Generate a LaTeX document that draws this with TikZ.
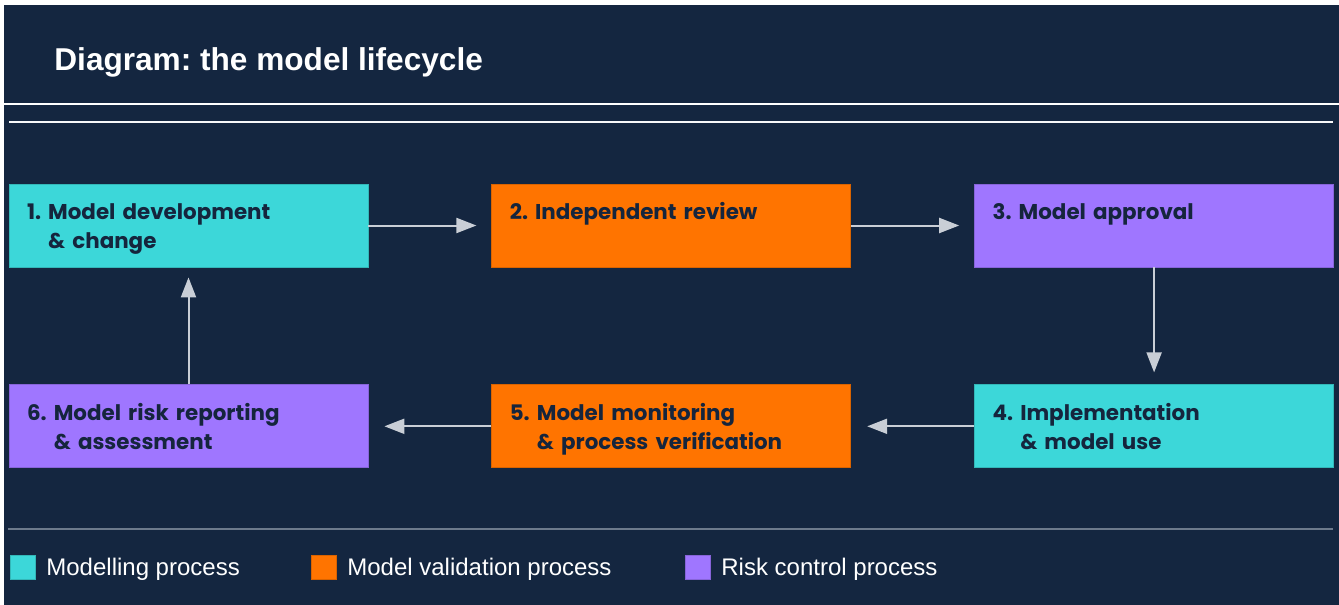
\documentclass[tikz,border=0pt]{standalone}
\usepackage{fontspec}
\setmainfont{Liberation Sans}
\newfontfamily\stagefont{Poppins}
\usepackage{tikz}
\usetikzlibrary{arrows.meta, positioning}
\frenchspacing
\definecolor{navy}{HTML}{142640}
\definecolor{modcyan}{HTML}{3CD7D9}
\definecolor{valorange}{HTML}{FF7400}
\definecolor{riskpurple}{HTML}{9F76FF}
\definecolor{stageink}{HTML}{15253D}
\definecolor{flowgrey}{HTML}{C9CED6}
\definecolor{rulegrey}{HTML}{6D7A8C}
\newcommand{\stagelines}[3]{\rule{0pt}{13pt}#1 #2\\\phantom{#1 }#3\strut}

\begin{document}
\begin{tikzpicture}[x=0.5pt, y=-0.5pt, node distance=58.5pt and 61.5pt,
  stage/.style={rectangle, draw=#1!85!black, line width=0.4pt, fill=#1,
    minimum width=179.5pt, minimum height=41.5pt, text width=161.5pt,
    inner xsep=9pt, align=left, text=stageink,
    font=\stagefont\bfseries\fontsize{10.7}{14.5}\selectfont},
  flow/.style={draw=flowgrey, line width=1pt, -{Triangle[length=10pt,width=7.5pt]}},
  key/.style={rectangle, draw=#1!85!black, fill=#1, minimum width=12.5pt,
    minimum height=12pt, inner sep=0pt},
  keytext/.style={anchor=base west, inner sep=0pt, text=white,
    font=\fontsize{12}{14}\selectfont}]
  \useasboundingbox (0,0) rectangle (1339,605);
  \fill[navy] (4,5) rectangle (1339,605);
  \draw[white, line width=1pt] (4,104) -- (1339,104);
  \draw[white!85!flowgrey, line width=1pt] (9,122) -- (1333,122);
  \draw[rulegrey, line width=1pt] (8,529) -- (1333,529);
  \node[anchor=base west, inner sep=0pt, text=white,
    font=\bfseries\fontsize{15.8}{19}\selectfont] (title) at (54,70) {Diagram: the model lifecycle};

  \node[stage=modcyan] (dev) at (188.5,225.5) {\stagelines{1.}{Model development}{\& change}};
  \node[stage=valorange, right=of dev] (review) {\stagelines{2.}{Independent review}{}};
  \node[stage=riskpurple, right=of review] (approval) {\stagelines{3.}{Model approval}{}};
  \node[stage=modcyan, below=of approval] (use) {\stagelines{4.}{Implementation}{\& model use}};
  \node[stage=valorange, left=of use] (monitor) {\stagelines{5.}{Model monitoring}{\& process verification}};
  \node[stage=riskpurple, left=of monitor] (report) {\stagelines{6.}{Model risk reporting}{\& assessment}};
  \draw[flow, shorten >=7.5pt] (dev) -- (review);
  \draw[flow, shorten >=7.5pt] (review) -- (approval);
  \draw[flow, shorten >=6pt] (approval) -- (use);
  \draw[flow, shorten >=8pt] (use) -- (monitor);
  \draw[flow, shorten >=8pt] (monitor) -- (report);
  \draw[flow, shorten >=5pt] (report) -- (dev);

  \node[key=modcyan] (keymodel) at (23,567) {};
  \node[keytext] (txtmodel) at (46,575) {Modelling process};
  \node[key=valorange] (keyvalid) at (324,567) {};
  \node[keytext] (txtvalid) at (347,575) {Model validation process};
  \node[key=riskpurple] (keyrisk) at (698,567) {};
  \node[keytext] (txtrisk) at (721,575) {Risk control process};
\end{tikzpicture}
\end{document}
